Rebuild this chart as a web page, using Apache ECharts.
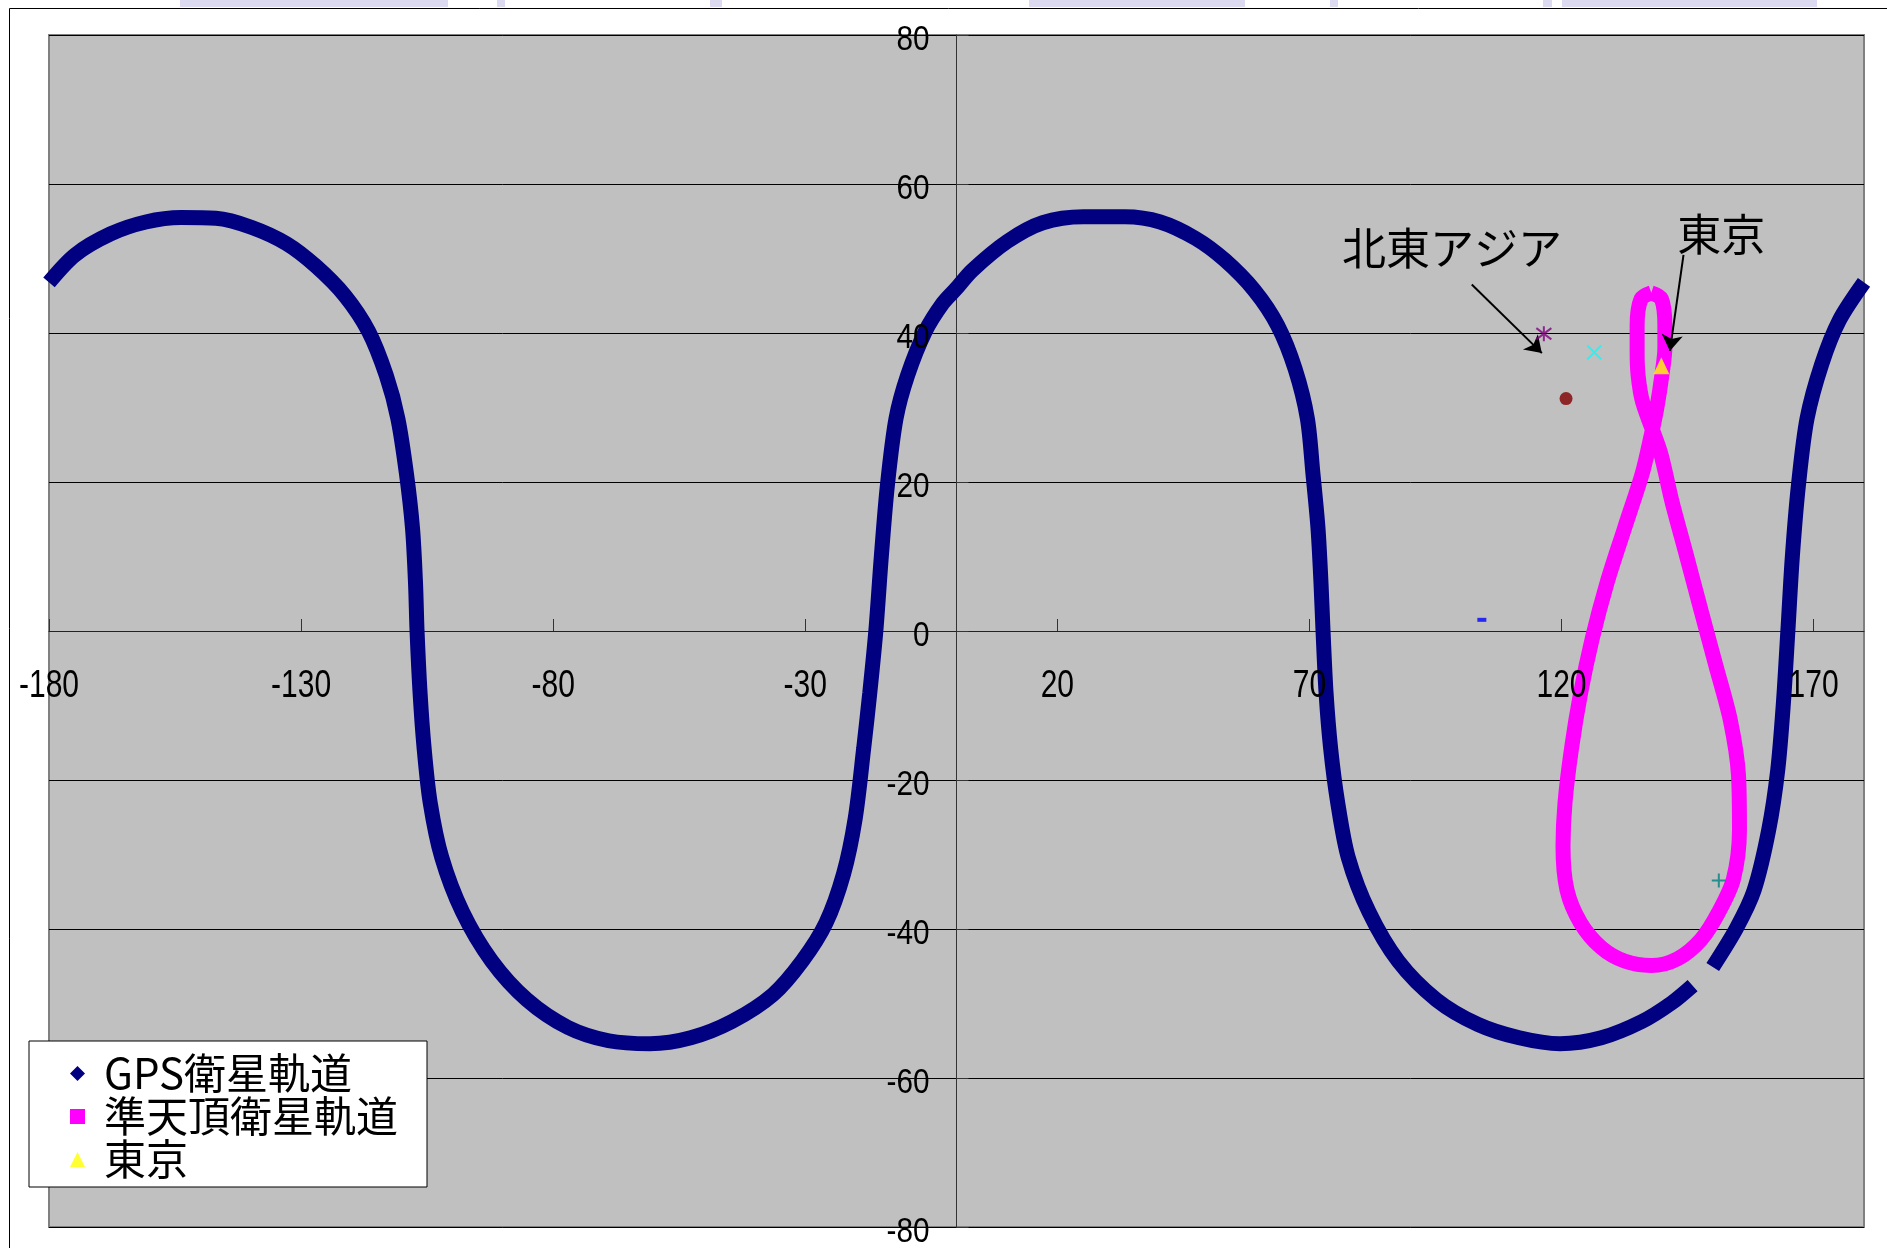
<!DOCTYPE html>
<html>
<head>
<meta charset="utf-8">
<script src="https://cdn.jsdelivr.net/npm/echarts@6/dist/echarts.min.js"></script>
<style>
  html, body { margin: 0; padding: 0; background: #fff; }
  #chart { width: 1887px; height: 1248px; }
</style>
</head>
<body>
<div id="chart"></div>
<script>
// GPS衛星軌道 (経度, 緯度) - 途中で途切れているので2区間
const gpsLon1 = [-180, -174.8, -167.8, -160.8, -153.8, -146.9, -139.9, -132.9, -127.1, -121.3, -116.6, -113.1,
  -110.8, -109.1, -107.9, -107.3, -107.0, -106.4, -105.6, -104.4, -102.1, -98.0, -92.2, -85.2, -77.1, -69.0,
  -60.8, -52.7, -44.5, -36.4, -30.6, -25.9, -22.4, -20.1, -18.4, -17.2, -16.0, -14.9, -13.7, -12.0, -9.7,
  -6.2, -2.7, 0.0, 3.1, 10.1, 17.1, 25.2, 33.4, 40.4, 47.4, 53.2, 59.1, 63.7, 67.2, 69.6, 70.7, 71.7, 72.3,
  72.7, 73.3, 74.2, 75.6, 77.7, 81.8, 87.6, 95.2, 103.4, 111.6, 119.7, 127.9, 136.0, 141.9, 146.0]
const gpsLat1 = [46.8, 50.5, 53.3, 54.9, 55.5, 55.4, 54.2, 52.0, 49.0, 45.0, 40.2, 34.3,
  28.5, 21.1, 13.8, 6.4, 0, -8.3, -15.7, -23.0, -30.4, -37.7, -44.3, -49.5, -53.2, -55.0,
  -55.4, -54.6, -52.4, -48.8, -44.3, -39.2, -32.6, -25.2, -15.7, -8.3, 0, 10.1, 19.6, 28.5, 34.3,
  40.2, 44.0, 46.0, 48.4, 52.3, 54.8, 55.6, 55.6, 54.9, 52.7, 49.8, 45.7, 41.0, 35.1, 28.5, 21.1, 13.8, 6.4,
  0, -8.3, -15.7, -23.0, -30.4, -37.7, -44.3, -49.5, -52.8, -54.6, -55.4, -54.6, -52.4, -49.9, -47.6]
const gpsLon2 = [150.0, 154.7, 158.2, 161.1, 162.9, 164.0, 164.9, 165.8, 167.0, 168.7, 171.6, 175.1, 180]
const gpsLat2 = [-45.1, -39.9, -34.8, -26.7, -18.6, -9.8, 0, 10.1, 19.6, 28.5, 35.8, 41.7, 46.8]

// 準天頂衛星軌道 (8の字)
const qzsLon = [137.8, 135.8, 135.0, 135.0, 135.2, 136.1, 139.6, 141.9, 144.8, 147.7, 150.6, 153.5, 155.1, 155.3,
  154.1, 151.2, 147.7, 143.0, 137.8, 132.5, 127.9, 123.8, 121.1, 120.3, 120.7, 122.0, 123.8, 126.1, 129.0,
  132.5, 136.0, 137.8, 138.9, 139.9, 140.5, 140.5, 139.8, 137.8]
const qzsLat = [45.4, 44.6, 41.0, 37.5, 34.3, 30.7, 24.0, 17.4, 10.1, 2.7, -4.6, -12.0, -19.3, -26.7,
  -33.3, -37.7, -41.4, -44.0, -44.9, -44.3, -42.5, -39.2, -34.8, -28.9, -23.0, -15.7, -8.3, -1.0, 6.4,
  13.8, 21.1, 26.3, 29.9, 34.3, 38.0, 41.0, 44.6, 45.4]

// 都市
const tokyo = [139.8, 35.6]
const beijing = [116.5, 39.9]
const seoul = [126.5, 37.4]
const shanghai = [120.9, 31.2]
const singapore = [104.2, 1.5]
const sydney = [151.2, -33.5]

// 軸の目盛
const xTickValues = [-180, -130, -80, -30, 20, 70, 120, 170]
const yTickValues = [-80, -60, -40, -20, 0, 20, 40, 60, 80]

// 注記 (テキスト位置と矢印)
const noteNames = ['北東アジア', '東京']
const notePos = [[98.3, 51.4], [151.7, 53.3]]
const arrowFrom = [[102.2, 46.5], [144.2, 50.5]]
const arrowTo = [[116.1, 37.3], [141.5, 37.6]]

const zip = (a, b) => a.map((v, i) => [v, b[i]])

const jpFont = '"Noto Sans CJK JP", sans-serif'

// グリッド位置 (軸を原点に置くためのオフセット計算用)
const gridLeft = 49, gridRight = 23, gridTop = 35, gridBottom = 21
const plotW = 1887 - gridLeft - gridRight
const plotH = 1248 - gridTop - gridBottom

const decor = [
  { type: 'rect', z: -10, shape: { x: 9.5, y: 8.5, width: 1900, height: 1300 }, style: { fill: 'none', stroke: '#000', lineWidth: 1 } },
  { type: 'rect', z: -10, shape: { x: 180, y: 0, width: 268, height: 7 }, style: { fill: '#DCDAF0' } },
  { type: 'rect', z: -10, shape: { x: 497, y: 0, width: 8, height: 7 }, style: { fill: '#DCDAF0' } },
  { type: 'rect', z: -10, shape: { x: 710, y: 0, width: 12, height: 7 }, style: { fill: '#DCDAF0' } },
  { type: 'rect', z: -10, shape: { x: 1029, y: 0, width: 216, height: 7 }, style: { fill: '#DCDAF0' } },
  { type: 'rect', z: -10, shape: { x: 1330, y: 0, width: 8, height: 7 }, style: { fill: '#DCDAF0' } },
  { type: 'rect', z: -10, shape: { x: 1543, y: 0, width: 9, height: 7 }, style: { fill: '#DCDAF0' } },
  { type: 'rect', z: -10, shape: { x: 1562, y: 0, width: 255, height: 7 }, style: { fill: '#DCDAF0' } }
]

const chart = echarts.init(document.getElementById('chart'))

const option = {
  animation: false,
  backgroundColor: '#fff',
  graphic: decor,
  grid: {
    left: gridLeft, right: gridRight, top: gridTop, bottom: gridBottom,
    show: true,
    backgroundColor: '#C0C0C0',
    borderColor: '#808080',
    borderWidth: 2,
    containLabel: false,
    outerBoundsMode: 'none'
  },
  legend: {
    orient: 'vertical',
    left: 29,
    top: 1041,
    padding: [11, 29, 6, 41],
    itemGap: 0,
    itemWidth: 15,
    itemHeight: 15,
    backgroundColor: '#fff',
    borderColor: '#000',
    borderWidth: 1,
    borderRadius: 0,
    selectedMode: false,
    textStyle: {
      fontSize: 42,
      lineHeight: 43,
      fontFamily: jpFont,
      color: '#000',
      padding: [0, 0, 0, 14]
    },
    data: [
      { name: 'GPS衛星軌道', icon: 'diamond' },
      { name: '準天頂衛星軌道', icon: 'rect' },
      { name: '東京', icon: 'triangle' }
    ]
  },
  xAxis: {
    type: 'value',
    min: -180,
    max: 180,
    position: 'bottom',
    offset: -plotH / 2,
    axisLine: { onZero: false, lineStyle: { color: '#222', width: 1 } },
    axisTick: { show: true, inside: true, length: 12, customValues: xTickValues, lineStyle: { color: '#333' } },
    axisLabel: { show: false },
    splitLine: { show: false }
  },
  yAxis: {
    type: 'value',
    min: -80,
    max: 80,
    interval: 20,
    position: 'left',
    offset: -plotW / 2,
    axisLine: { show: true, onZero: false, lineStyle: { color: '#333', width: 1 } },
    axisTick: { show: true, inside: true, length: 12, lineStyle: { color: '#333' } },
    axisLabel: { show: false },
    splitLine: { show: true, lineStyle: { color: '#000', width: 1 } }
  },
  series: [
    {
      name: 'GPS衛星軌道',
      type: 'line',
      data: zip(gpsLon1, gpsLat1),
      smooth: 0.3,
      showSymbol: false,
      clip: false,
      itemStyle: { color: '#000080' },
      lineStyle: { color: '#000080', width: 15, cap: 'butt' },
      z: 3
    },
    {
      name: 'GPS衛星軌道',
      type: 'line',
      data: zip(gpsLon2, gpsLat2),
      smooth: 0.3,
      showSymbol: false,
      clip: false,
      itemStyle: { color: '#000080' },
      lineStyle: { color: '#000080', width: 15, cap: 'butt' },
      z: 3
    },
    {
      name: '準天頂衛星軌道',
      type: 'line',
      data: zip(qzsLon, qzsLat),
      smooth: 0.3,
      showSymbol: false,
      itemStyle: { color: '#FF00FF' },
      lineStyle: { color: '#FF00FF', width: 15 },
      z: 4,
      markLine: {
        silent: true,
        animation: false,
        symbol: ['none', 'arrow'],
        symbolSize: 16,
        label: { show: false },
        lineStyle: { color: '#000', width: 2, type: 'solid' },
        data: arrowFrom.map((from, i) => [{ coord: from }, { coord: arrowTo[i] }])
      },
      markPoint: {
        silent: true,
        animation: false,
        symbol: 'rect',
        symbolSize: 1,
        itemStyle: { color: 'rgba(0,0,0,0)' },
        label: {
          show: true,
          position: 'inside',
          formatter: p => p.name,
          fontSize: 44,
          fontFamily: jpFont,
          color: '#000'
        },
        data: noteNames.map((n, i) => ({ name: n, coord: notePos[i] }))
      }
    },
    {
      name: '東京',
      type: 'scatter',
      data: [tokyo],
      symbol: 'triangle',
      symbolSize: [16, 17],
      itemStyle: { color: '#FFFF00' },
      z: 6
    },
    {
      name: '北京',
      type: 'scatter',
      data: [beijing],
      symbol: 'path://M8,0V16M1,2L15,14M15,2L1,14',
      symbolSize: 15,
      itemStyle: { color: 'none', borderColor: '#800080', borderWidth: 2 },
      z: 6
    },
    {
      name: 'ソウル',
      type: 'scatter',
      data: [seoul],
      symbol: 'path://M0,0L16,16M16,0L0,16',
      symbolSize: 14,
      itemStyle: { color: 'none', borderColor: '#00FFFF', borderWidth: 2 },
      z: 6
    },
    {
      name: '上海',
      type: 'scatter',
      data: [shanghai],
      symbol: 'circle',
      symbolSize: 13,
      itemStyle: { color: '#800000' },
      z: 6
    },
    {
      name: 'シンガポール',
      type: 'scatter',
      data: [singapore],
      symbol: 'rect',
      symbolSize: [9, 4],
      itemStyle: { color: '#0000FF' },
      z: 6
    },
    {
      name: 'シドニー',
      type: 'scatter',
      data: [sydney],
      symbol: 'path://M8,0V16M0,8H16',
      symbolSize: 14,
      itemStyle: { color: 'none', borderColor: '#008080', borderWidth: 2 },
      z: 6
    }
  ]
}

chart.setOption(option)

// 目盛ラベル: 縦長の細い字体を再現するため横方向に縮めたテキストで描く
// 位置はチャートの座標変換から求める
const toPx = (x, y) => chart.convertToPixel({ gridIndex: 0 }, [x, y])
const origin = toPx(0, 0)

const xLabels = xTickValues.map(v => ({
  type: 'text',
  x: toPx(v, 0)[0],
  y: origin[1] + 55,
  scaleX: 0.77,
  z: 10,
  style: {
    text: String(v),
    font: '39px "Liberation Sans", Arial, sans-serif',
    fill: '#000',
    align: 'center',
    verticalAlign: 'middle'
  }
}))

const yLabels = yTickValues.map(v => ({
  type: 'text',
  x: origin[0] - 27,
  y: toPx(0, v)[1] + 5,
  scaleX: 0.85,
  z: 10,
  style: {
    text: String(v),
    font: '35px "Liberation Sans", Arial, sans-serif',
    fill: '#000',
    align: 'right',
    verticalAlign: 'middle'
  }
}))

chart.setOption({ graphic: decor.concat(xLabels, yLabels) })
</script>
</body>
</html>
